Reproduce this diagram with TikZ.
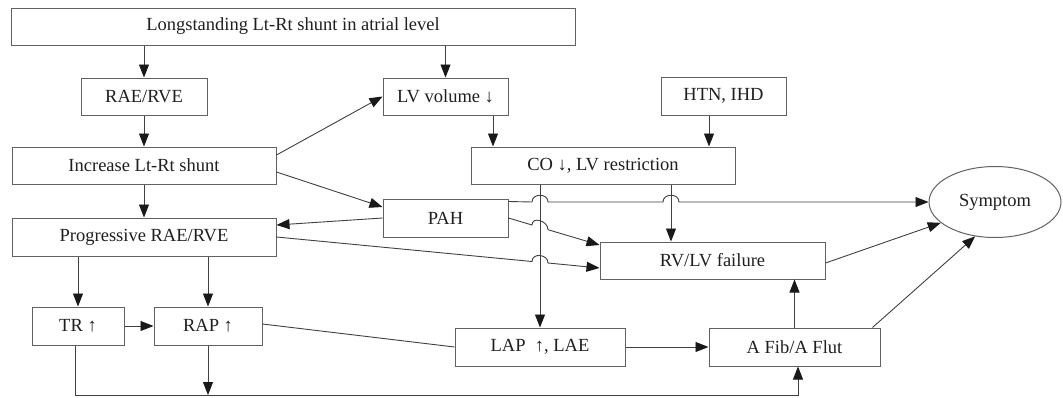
\documentclass[tikz,border=0pt]{standalone}
\usepackage{fontspec}
\setmainfont{Liberation Serif}
\usetikzlibrary{arrows.meta,shapes.geometric,calc}
\begin{document}
\begin{tikzpicture}[x=1pt,y=-1pt,
  box/.style={draw=black!62, line width=1pt, rectangle, minimum height=37pt, inner sep=0pt,
    font=\fontsize{18.5}{22}\selectfont, text=black!88},
  con/.style={draw=black!75, line width=0.9pt},
  arr/.style={con, -{Triangle[length=13pt,width=10pt,color=black!90]}}
]
\useasboundingbox (0,0) rectangle (1063,397);

\node[box, minimum width=564pt] (top) at (293,26.5) {Longstanding Lt-Rt shunt in atrial level};
\node[box, minimum width=126pt] (rae) at (144,96.5) {RAE/RVE};
\node[box, minimum width=125pt] (lvv) at (445.5,96.5) {LV volume ↓};
\node[box, minimum width=125pt, minimum height=38pt] (htn) at (723.5,96) {HTN, IHD};
\node[box, minimum width=264pt] (inc) at (144,165.5) {Increase Lt-Rt shunt};
\node[box, minimum width=264pt] (co) at (603,165.5) {CO ↓, LV restriction};
\node[box, minimum width=125pt, minimum height=38pt] (pah) at (445.5,218) {PAH};
\node[box, minimum width=264pt, minimum height=38pt] (prog) at (144,237) {Progressive RAE/RVE};
\node[ellipse, draw=black!62, line width=1pt, minimum width=132pt, minimum height=71pt, inner sep=0pt,
  font=\fontsize{18.5}{22}\selectfont, text=black!88] (sym) at (995,202) {Symptom};
\node[box, minimum width=225pt] (rvlv) at (712.5,260.5) {RV/LV failure};
\node[box, minimum width=92pt, minimum height=38pt] (tr) at (78,326) {TR ↑};
\node[box, minimum width=108pt, minimum height=38pt] (rap) at (208,326) {RAP ↑};
\node[box, minimum width=170pt, minimum height=38pt] (lap) at (540,347) {LAP\ \ ↑, LAE};
\node[box, minimum width=171pt, minimum height=38pt] (afib) at (794.5,347) {A Fib/A Flut};
\coordinate (bl) at (75,395);

\draw[arr] (top.south -| rae.north) -- (rae.north);
\draw[arr] (top.south -| lvv.north) -- (lvv.north);
\draw[arr] (rae.south) -- (inc.north);
\draw[arr] ([yshift=10.5pt]inc.east) -- (lvv.west);
\draw[arr] ([xshift=47.5pt]lvv.south) -- ([xshift=47.5pt]lvv.south |- co.north);
\draw[arr] ([xshift=-14.5pt]htn.south) -- ([xshift=-14.5pt]htn.south |- co.north);
\draw[arr] ([yshift=-6.5pt]inc.east) -- ([yshift=11pt]pah.west);
\draw[arr] (inc.south) -- (prog.north);
\draw[arr] (pah.west) -- ([yshift=12pt]prog.east);
\draw[arr] ([yshift=-3pt]pah.north east) -- (532,202) .. controls +(0,-9) and +(0,-9) .. (548,202)
  -- (663,202) .. controls +(0,-9) and +(0,-9) .. (679,202) -- (sym.west);
\draw[arr] (pah.east) -- (532,225.0) .. controls +(0,-9) and +(0,-9) .. (548,229.7) -- ([yshift=15.5pt]rvlv.west);
\draw[arr] (prog.east) -- (532,261.5) .. controls +(0,-9) and +(0,-9) .. (548,263.0) -- ([yshift=-7.5pt]rvlv.west);
\draw[arr] (co.south -| lap.north) -- (lap.north);
\draw[arr] ([xshift=68pt]co.south) -- ([xshift=68pt]co.south |- rvlv.north);
\draw[arr] (prog.south -| tr.north) -- (tr.north);
\draw[arr] (prog.south -| rap.north) -- (rap.north);
\draw[arr] (tr.east) -- (rap.west);
\draw[con] ([yshift=2pt]rap.east) -- (lap.west);
\draw[arr] (lap.east) -- (afib.west);
\draw[arr] ([xshift=-3pt]tr.south) -- ([xshift=-3pt]tr.south |- bl) -- ([xshift=3.5pt]afib.south |- bl) -- ([xshift=3.5pt]afib.south);
\draw[arr] (rap.south) -- (rap.south |- bl);
\draw[arr] (afib.north) -- (afib.north |- rvlv.south);
\draw[arr] ([yshift=-2.5pt]rvlv.east) -- (sym.201);
\draw[arr] ([xshift=-8pt]afib.north east) -- (sym.240);
\end{tikzpicture}
\end{document}
